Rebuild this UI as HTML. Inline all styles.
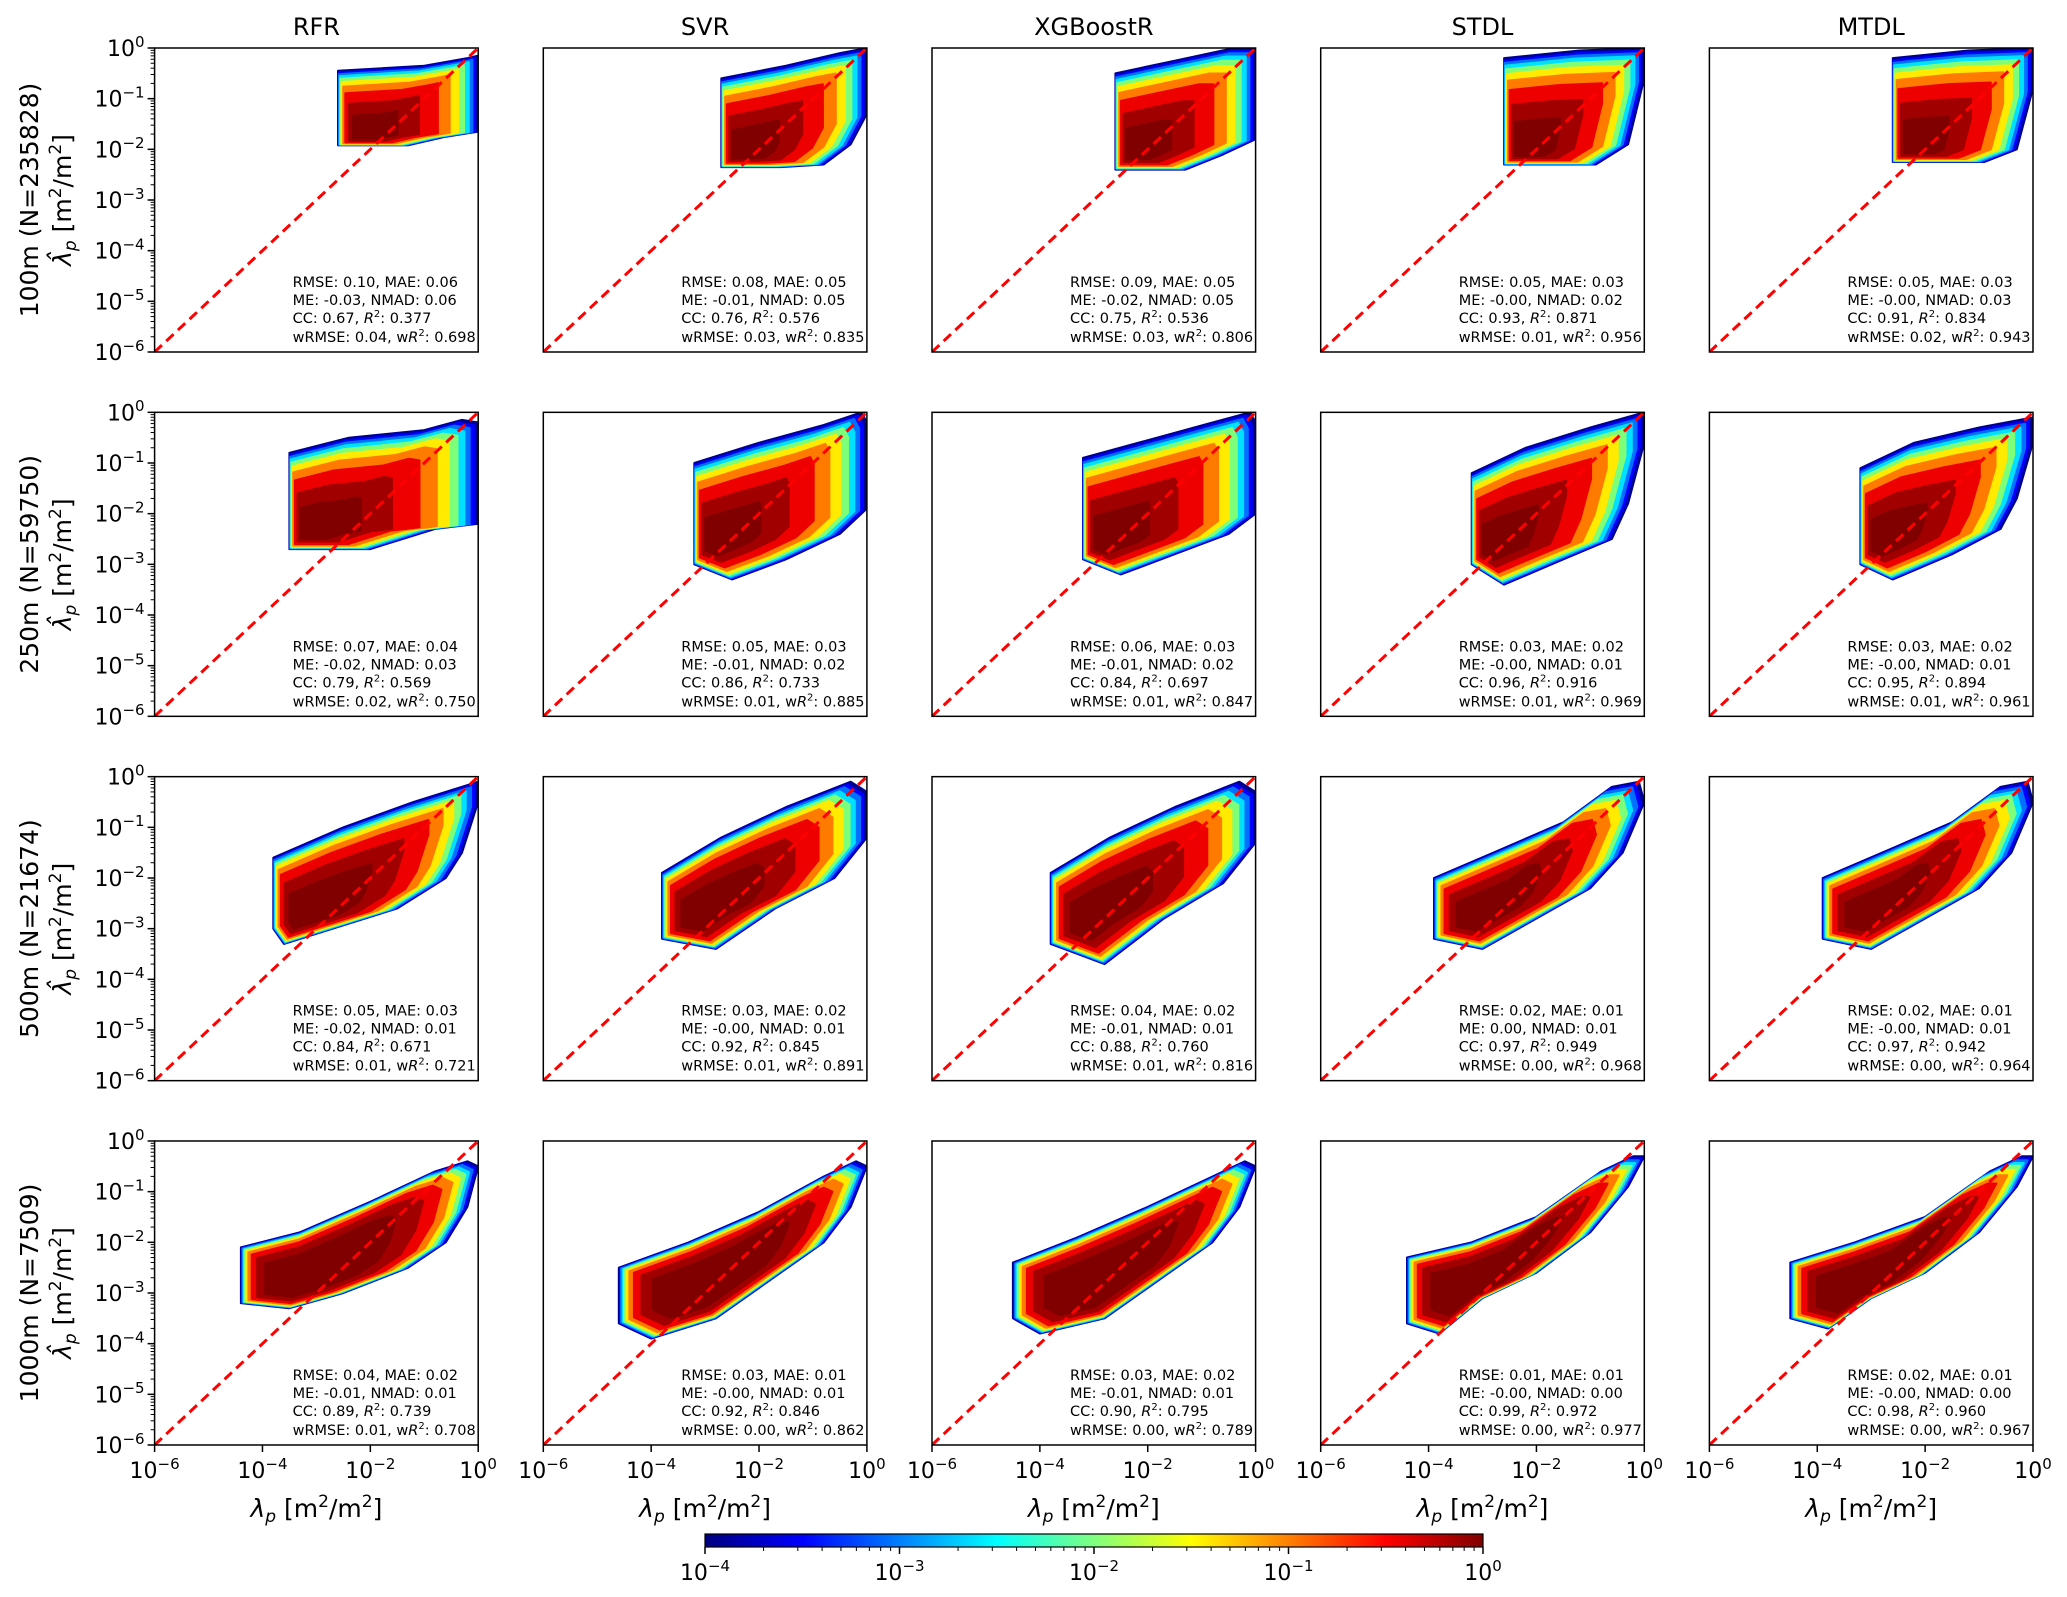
<!DOCTYPE html>
<html><head><meta charset="utf-8">
<style>
html,body{margin:0;padding:0;background:#fff;}
svg{display:block;font-family:"DejaVu Sans","Liberation Sans",sans-serif;}
</style></head>
<body>
<svg id="fig" width="2067" height="1597" viewBox="0 0 2067 1597" xmlns="http://www.w3.org/2000/svg">
<defs>
<linearGradient id="jet" x1="0" x2="1" y1="0" y2="0">
<stop offset="0" stop-color="#000080"/><stop offset="0.125" stop-color="#0000ff"/>
<stop offset="0.375" stop-color="#00ffff"/><stop offset="0.625" stop-color="#ffff00"/>
<stop offset="0.875" stop-color="#ff0000"/><stop offset="1" stop-color="#800000"/>
</linearGradient>
</defs>
</svg>
<script>
// ---- data ----
const models = ["RFR","SVR","XGBoostR","STDL","MTDL"];
const rowLabels = ["100m (N=235828)","250m (N=59750)","500m (N=21674)","1000m (N=7509)"];
const yTicks = [0,-1,-2,-3,-4,-5,-6];
const xTicks = [-6,-4,-2,0];
const cbTicks = [-4,-3,-2,-1,0];
// hull polygons of each scatter cloud (log10 x, log10 y)
const hull100 = [
 [[-2.6,-0.45],[-1.0,-0.35],[-0.2,-0.2],[0,-0.15],[0,-1.65],[-0.6,-1.75],[-1.3,-1.92],[-2.6,-1.92]],
 [[-2.7,-0.6],[-1.5,-0.35],[-0.5,-0.1],[0,0],[0,-1.3],[-0.3,-1.9],[-0.8,-2.3],[-1.6,-2.35],[-2.7,-2.35]],
 [[-2.6,-0.5],[-1.5,-0.25],[-0.4,0],[0,0],[0,-1.8],[-0.6,-2.1],[-1.3,-2.4],[-2.6,-2.4]],
 [[-2.6,-0.2],[-1.2,-0.05],[0,0],[0,-0.6],[-0.3,-1.9],[-0.9,-2.3],[-2.6,-2.3]],
 [[-2.6,-0.2],[-1.2,-0.05],[0,0],[0,-0.8],[-0.3,-2.0],[-0.9,-2.25],[-2.6,-2.25]]
];
const hull250 = [
 [[-3.5,-0.8],[-2.4,-0.5],[-1,-0.35],[-0.3,-0.15],[0,-0.2],[0,-2.2],[-0.8,-2.3],[-2,-2.7],[-3.5,-2.7]],
 [[-3.2,-1.0],[-2,-0.6],[-0.8,-0.25],[-0.1,0],[0,-0.2],[0,-1.9],[-0.5,-2.4],[-1.5,-2.9],[-2.5,-3.3],[-3.2,-3.0]],
 [[-3.2,-0.9],[-2,-0.55],[-0.8,-0.2],[-0.1,0],[0,-0.2],[0,-2.0],[-0.5,-2.4],[-1.5,-2.8],[-2.5,-3.2],[-3.2,-2.9]],
 [[-3.2,-1.2],[-2.2,-0.7],[-1,-0.3],[0,0],[0,-0.6],[-0.3,-1.8],[-0.6,-2.5],[-1.5,-2.9],[-2.6,-3.4],[-3.2,-3.0]],
 [[-3.2,-1.1],[-2.2,-0.6],[-1,-0.3],[0,-0.1],[0,-0.6],[-0.3,-1.7],[-0.6,-2.3],[-1.5,-2.8],[-2.6,-3.3],[-3.2,-3.0]]
];
const hull500 = [
 [[-3.8,-1.6],[-2.5,-1.0],[-1.2,-0.5],[0,-0.1],[0,-0.5],[-0.3,-1.5],[-0.6,-2.0],[-1.5,-2.6],[-2.7,-3.0],[-3.6,-3.3],[-3.8,-3.0]],
 [[-3.8,-1.9],[-2.7,-1.2],[-1.5,-0.6],[-0.3,-0.1],[0,-0.3],[0,-1.2],[-0.6,-2.0],[-1.7,-2.6],[-2.8,-3.4],[-3.8,-3.2]],
 [[-3.8,-1.9],[-2.7,-1.2],[-1.5,-0.6],[-0.3,-0.1],[0,-0.3],[0,-1.3],[-0.6,-2.1],[-1.7,-2.8],[-2.8,-3.7],[-3.8,-3.3]],
 [[-3.9,-2.0],[-2.8,-1.5],[-1.5,-0.9],[-0.6,-0.2],[-0.1,-0.1],[0,-0.5],[-0.4,-1.5],[-1,-2.2],[-2,-2.8],[-3,-3.4],[-3.9,-3.2]],
 [[-3.9,-2.0],[-2.8,-1.5],[-1.5,-0.9],[-0.6,-0.2],[-0.1,-0.1],[0,-0.5],[-0.4,-1.5],[-1,-2.2],[-2,-2.8],[-3,-3.4],[-3.9,-3.2]]
];
const hull1000 = [
 [[-4.4,-2.1],[-3.3,-1.8],[-2,-1.2],[-0.8,-0.6],[-0.2,-0.4],[0,-0.5],[-0.2,-1.3],[-0.6,-2.0],[-1.3,-2.5],[-2.5,-3.0],[-3.5,-3.3],[-4.4,-3.2]],
 [[-4.6,-2.5],[-3.3,-2.0],[-2,-1.4],[-0.8,-0.7],[-0.2,-0.4],[0,-0.5],[-0.3,-1.3],[-0.8,-2.0],[-1.6,-2.6],[-2.8,-3.5],[-4.0,-3.9],[-4.6,-3.6]],
 [[-4.5,-2.4],[-3.3,-1.9],[-2,-1.3],[-0.8,-0.7],[-0.2,-0.4],[0,-0.5],[-0.3,-1.3],[-0.8,-2.0],[-1.6,-2.6],[-2.8,-3.5],[-4.0,-3.8],[-4.5,-3.5]],
 [[-4.4,-2.3],[-3.2,-2.0],[-2,-1.5],[-0.8,-0.6],[-0.2,-0.3],[0,-0.3],[-0.3,-0.9],[-1,-1.8],[-2,-2.6],[-3,-3.1],[-3.8,-3.8],[-4.4,-3.6]],
 [[-4.5,-2.4],[-3.3,-2.0],[-2,-1.5],[-0.8,-0.6],[-0.2,-0.3],[0,-0.3],[-0.3,-0.9],[-1,-1.8],[-2,-2.6],[-3,-3.1],[-3.8,-3.7],[-4.5,-3.5]]
];
const hulls = [hull100, hull250, hull500, hull1000];
const cores = [
 [[-2.2,-1.75],[-2.4,-2.1],[-2.3,-2.1],[-2.3,-2.05],[-2.3,-2.0]],
 [[-3.2,-2.4],[-2.9,-2.6],[-2.9,-2.6],[-2.9,-2.7],[-2.9,-2.6]],
 [[-3.3,-2.8],[-3.2,-2.8],[-3.2,-2.9],[-3.2,-2.8],[-3.2,-2.8]],
 [[-3.4,-2.8],[-3.2,-3.0],[-3.2,-3.0],[-3.4,-3.0],[-3.4,-3.0]]
];
const rmse = [["0.10","0.08","0.09","0.05","0.05"],["0.07","0.05","0.06","0.03","0.03"],["0.05","0.03","0.04","0.02","0.02"],["0.04","0.03","0.03","0.01","0.02"]];
const mae  = [["0.06","0.05","0.05","0.03","0.03"],["0.04","0.03","0.03","0.02","0.02"],["0.03","0.02","0.02","0.01","0.01"],["0.02","0.01","0.02","0.01","0.01"]];
const me   = [["-0.03","-0.01","-0.02","-0.00","-0.00"],["-0.02","-0.01","-0.01","-0.00","-0.00"],["-0.02","-0.00","-0.01","0.00","-0.00"],["-0.01","-0.00","-0.01","-0.00","-0.00"]];
const nmad = [["0.06","0.05","0.05","0.02","0.03"],["0.03","0.02","0.02","0.01","0.01"],["0.01","0.01","0.01","0.01","0.01"],["0.01","0.01","0.01","0.00","0.00"]];
const cc   = [["0.67","0.76","0.75","0.93","0.91"],["0.79","0.86","0.84","0.96","0.95"],["0.84","0.92","0.88","0.97","0.97"],["0.89","0.92","0.90","0.99","0.98"]];
const r2   = [["0.377","0.576","0.536","0.871","0.834"],["0.569","0.733","0.697","0.916","0.894"],["0.671","0.845","0.760","0.949","0.942"],["0.739","0.846","0.795","0.972","0.960"]];
const wrmse= [["0.04","0.03","0.03","0.01","0.02"],["0.02","0.01","0.01","0.01","0.01"],["0.01","0.01","0.01","0.00","0.00"],["0.01","0.00","0.00","0.00","0.00"]];
const wr2  = [["0.698","0.835","0.806","0.956","0.943"],["0.750","0.885","0.847","0.969","0.961"],["0.721","0.891","0.816","0.968","0.964"],["0.708","0.862","0.789","0.977","0.967"]];

// ---- layout ----
const NS = "http://www.w3.org/2000/svg";
const svg = document.getElementById("fig");
const PX0 = 154.6, PDX = 388.7, PW = 323.6, PY0 = 48, PDY = 364.33, PH = 304;
const layerColors = ["#00008f","#0000ff","#0070ff","#00e0ff","#7dff7a","#ffea00","#ff7b00","#ee0000","#a00000","#800000"];
const layerF = [[1,.975,.95,.92,.88,.83,.76,.66,.5,.32],[1,.975,.95,.92,.88,.83,.76,.66,.5,.32],[1,.98,.96,.93,.9,.86,.8,.72,.58,.4],[1,.985,.97,.95,.93,.9,.86,.8,.7,.55]];
function mk(tag, attrs, parent){const e=document.createElementNS(NS,tag);for(const k in attrs)e.setAttribute(k,attrs[k]);(parent||svg).appendChild(e);return e;}
function sup(t, base, exp, bs, es){
  t.appendChild(document.createTextNode(base));
  const s=document.createElementNS(NS,"tspan");s.setAttribute("font-size",es);s.setAttribute("dy",-bs*0.42);s.textContent=exp;t.appendChild(s);
}

for(let r=0;r<4;r++){
  for(let c=0;c<5;c++){
    const L=PX0+c*PDX, T=PY0+r*PDY;
    const sx=v=>L+(v+6)/6*PW, sy=v=>T+(-v)/6*PH;
    const g=mk("g",{});
    
    
    const cid="clip"+r+"_"+c;
    const cp=mk("clipPath",{id:cid},g); mk("rect",{x:L,y:T,width:PW,height:PH},cp);
    const sg=mk("g",{"clip-path":"url(#"+cid+")"},g);
    
    
    const hull=hulls[r][c], core=cores[r][c];
    layerF[r].forEach((f,i)=>{
      const pts=hull.map(p=>{const x=core[0]+f*(p[0]-core[0]), y=core[1]+f*(p[1]-core[1]);return sx(x).toFixed(1)+","+sy(y).toFixed(1);}).join(" ");
      const pg=mk("polygon",{points:pts,fill:layerColors[i],stroke:layerColors[i],"stroke-width":2,"stroke-linejoin":"round"},sg);
      
      
    });
    const dl=mk("line",{x1:sx(-6),y1:sy(-6),x2:sx(0),y2:sy(0),stroke:"#ff0000","stroke-width":3,"stroke-dasharray":"10,6"},sg);
    
    
    const fr=mk("rect",{x:L,y:T,width:PW,height:PH,fill:"none",stroke:"#000","stroke-width":1.5},g);
    
    
    const st=mk("text",{x:L+138,y:T+239,"font-size":14.5,fill:"#000"},g);
    
    
    const lines=[
      ["RMSE: "+rmse[r][c]+", MAE: "+mae[r][c]],
      ["ME: "+me[r][c]+", NMAD: "+nmad[r][c]],
      ["CC: "+cc[r][c]+", ","R","2",": "+r2[r][c]],
      ["wRMSE: "+wrmse[r][c]+", w","R","2",": "+wr2[r][c]]];
    const dys=[0,18,18,19];
    lines.forEach((ln,i)=>{
      const ts=mk("tspan",{x:L+138,dy:dys[i]},st);
      if(ln.length===1){ts.textContent=ln[0];}
      else{
        ts.appendChild(document.createTextNode(ln[0]));
        const it=mk("tspan",{"font-style":"italic"},ts);it.textContent=ln[1];
        const sp=mk("tspan",{"font-size":10,dy:-6},ts);sp.textContent=ln[2];
        const rest=mk("tspan",{dy:6},ts);rest.textContent=ln[3];
      }
    });
    if(c===0){
      for(let d=-6;d<0;d++){for(let m=2;m<=9;m++){const y=sy(d+Math.log10(m));mk("line",{x1:L-4,x2:L,y1:y,y2:y,stroke:"#000","stroke-width":1},g);}}
      yTicks.forEach(v=>{
        const y=sy(v); mk("line",{x1:L-7,x2:L,y1:y,y2:y,stroke:"#000","stroke-width":1.5},g);
        const t=mk("text",{x:L-10,y:y+8,"text-anchor":"end","font-size":22},g);
        
        
        sup(t,"10",v===0?"0":"\u2212"+(-v),22,15);
      });
      const yl=mk("text",{transform:"translate(38,"+(T+PH/2)+") rotate(-90)","text-anchor":"middle","font-size":25},svg);
      
      
      yl.textContent=rowLabels[r];
      const yl2=mk("text",{transform:"translate(71,"+(T+PH/2)+") rotate(-90)","text-anchor":"middle","font-size":25},svg);
      
      
      const a=mk("tspan",{"font-style":"italic"},yl2);a.textContent="\u03BB\u0302";
      const b=mk("tspan",{"font-style":"italic","font-size":17,dy:5},yl2);b.textContent="p";
      const cc2=mk("tspan",{dy:-5},yl2);cc2.textContent=" [m";
      const d2=mk("tspan",{"font-size":17,dy:-10},yl2);d2.textContent="2";
      const e2=mk("tspan",{dy:10},yl2);e2.textContent="/m";
      const f2=mk("tspan",{"font-size":17,dy:-10},yl2);f2.textContent="2";
      const h2=mk("tspan",{dy:10},yl2);h2.textContent="]";
    }
    if(r===0){
      const tt=mk("text",{x:L+PW/2,y:35,"text-anchor":"middle","font-size":24},svg);
      
      
      tt.textContent=models[c];
    }
    if(r===3){
      xTicks.forEach(v=>{
        const x=sx(v); mk("line",{x1:x,x2:x,y1:T+PH,y2:T+PH+7,stroke:"#000","stroke-width":1.5},g);
        const t=mk("text",{x:x,y:1478,"text-anchor":"middle","font-size":22},g);
        
        
        sup(t,"10",v===0?"0":"\u2212"+(-v),22,15);
      });
      const xl=mk("text",{x:L+PW/2,y:1517,"text-anchor":"middle","font-size":25},svg);
      
      
      const a=mk("tspan",{"font-style":"italic"},xl);a.textContent="\u03BB";
      const b=mk("tspan",{"font-style":"italic","font-size":17,dy:5},xl);b.textContent="p";
      const c3=mk("tspan",{dy:-5},xl);c3.textContent=" [m";
      const d3=mk("tspan",{"font-size":17,dy:-10},xl);d3.textContent="2";
      const e3=mk("tspan",{dy:10},xl);e3.textContent="/m";
      const f3=mk("tspan",{"font-size":17,dy:-10},xl);f3.textContent="2";
      const h3=mk("tspan",{dy:10},xl);h3.textContent="]";
    }
  }
}
// colorbar
const CB_L=705, CB_R=1483, CB_T=1534, CB_B=1547;
const cx=v=>CB_L+(v+4)/4*(CB_R-CB_L);
const cbr=mk("rect",{x:CB_L,y:CB_T,width:CB_R-CB_L,height:CB_B-CB_T,fill:"url(#jet)",stroke:"#000","stroke-width":1.2});


for(let d=-4;d<0;d++){for(let m=2;m<=9;m++){const x=cx(d+Math.log10(m));mk("line",{x1:x,x2:x,y1:CB_B,y2:CB_B+4,stroke:"#000","stroke-width":1});}}
cbTicks.forEach(v=>{
  const x=cx(v); mk("line",{x1:x,x2:x,y1:CB_B,y2:CB_B+7,stroke:"#000","stroke-width":1.5});
  const t=mk("text",{x:x,y:1580,"text-anchor":"middle","font-size":22});
  
  
  sup(t,"10",v===0?"0":"\u2212"+(-v),22,15);
});
</script>
</body></html>
